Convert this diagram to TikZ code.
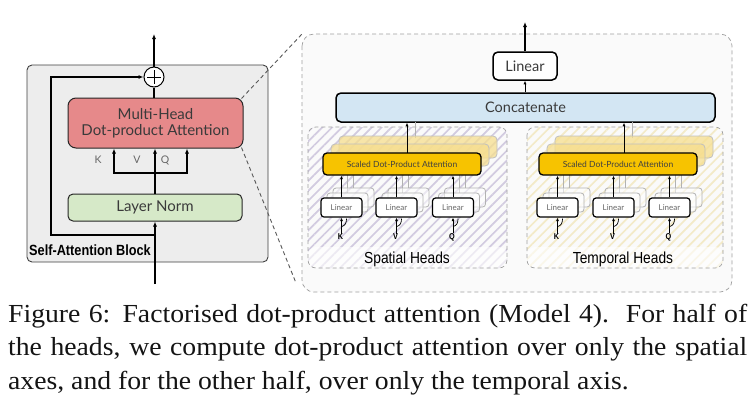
\documentclass[tikz,border=0pt]{standalone}
\usepackage{fontspec}
\setmainfont{Liberation Serif}
\newfontfamily\boxfont{Lato}
\newfontfamily\arialf{Liberation Sans}[FakeStretch=0.86]
\newfontfamily\capf{Liberation Serif}[FakeStretch=1.065]
\usetikzlibrary{arrows.meta,calc,patterns.meta}
\definecolor{blockgray}{HTML}{EDEDED}
\definecolor{mhred}{HTML}{E6898A}
\definecolor{lngreen}{HTML}{D6E9C8}
\definecolor{catblue}{HTML}{D3E6F3}
\definecolor{gold}{HTML}{F7C300}
\definecolor{goldcopy}{HTML}{F6DE8E}
\definecolor{hatchP}{HTML}{D2CBE0}
\definecolor{hatchY}{HTML}{F3EAC8}
\definecolor{dashgray}{HTML}{A0A0A0}
\definecolor{txtgray}{HTML}{3A3A3A}
\tikzset{
  arr/.style={-{Latex[length=5pt,width=4pt]}, line width=1.2pt},
  arrs/.style={-{Latex[length=3.5pt,width=3pt]}, line width=1pt},
  bigbox/.style={draw=black!85, line width=1pt, inner sep=0pt, align=center,
    font=\boxfont\fontsize{15}{17}\selectfont, text=txtgray},
  sdpa/.style={draw=black, line width=1.3pt, fill=gold, rounded corners=4pt,
    minimum width=158pt, minimum height=22pt, inner sep=0pt,
    font=\boxfont\fontsize{8.5}{10}\selectfont, text=black!75},
  sdpacopy/.style={draw=black!25, line width=0.8pt, fill=goldcopy, fill opacity=0.75,
    rounded corners=4pt, minimum width=158pt, minimum height=22pt, inner sep=0pt},
  linsm/.style={draw=black, line width=1.2pt, fill=white, rounded corners=3pt,
    minimum width=41pt, minimum height=19pt, inner sep=0pt,
    font=\boxfont\fontsize{8}{9}\selectfont, text=black!60},
  lincopy/.style={draw=black!30, line width=0.8pt, fill=white, fill opacity=0.55,
    rounded corners=3pt, minimum width=41pt, minimum height=19pt, inner sep=0pt},
  kvq/.style={font=\arialf\bfseries\fontsize{8.5}{9}\selectfont, inner sep=0pt},
  kvqleft/.style={font=\boxfont\fontsize{10.5}{12}\selectfont, text=black!60, inner sep=0pt},
  zoomline/.style={dashed, draw=black!65, line width=0.9pt, dash pattern=on 4pt off 3pt},
  headbox/.style={dashed, draw=dashgray, line width=0.7pt, rounded corners=8pt,
    dash pattern=on 4pt off 3pt},
  capline/.style={anchor=base west, inner sep=0pt, text=black!92,
    font=\capf\fontsize{26}{30}\selectfont},
}
\newcommand\headgrp[6]{% #1 prefix, #2 sdpa cx, #3 #4 #5 linear cx, #6 top arrow dx
  \draw[black!30, line width=0.8pt] (#2+#6+8,138) -- (#2+#6+8,122);
  \node[sdpacopy] at (#2+16,164-17) {};
  \node[sdpacopy] at (#2+8,164-9) {};
  \foreach \xx in {#3,#4,#5} {
    \draw[black!30, line width=0.8pt] (\xx+6,193) -- (\xx+6,175);
    \draw[black!30, line width=0.8pt] (\xx+12,188) -- (\xx+12,175);
  }
  \node[sdpa] (#1s) at (#2,164) {Scaled Dot-Product Attention};
  \coordinate (#1t) at (#2+#6,153);
  \draw[arrs] (#1t) -- (#1t |- cat.south);
  \foreach \xx/\ll/\nn in {#3/K/k,#4/V/v,#5/Q/q} {
    \node[lincopy] at (\xx+12,207.5-10) {};
    \node[lincopy] at (\xx+6,207.5-5) {};
    \node[linsm] (#1\nn) at (\xx,207.5) {Linear};
    \node[kvq] (#1\nn l) at (\xx-1,237) {\ll};
    \draw[arrs] (#1\nn l.north -| #1\nn.south) -- (#1\nn.south);
    \draw[line width=0.7pt] ($(#1\nn.south)+(0,9)$) .. controls ($(#1\nn.south)+(4,8)$) and ($(#1\nn.south)+(5,5)$) .. ($(#1\nn.south)+(5,1)$);
    \draw[arrs] (#1\nn.north) -- (#1\nn.north |- #1s.south);
  }
}
\begin{document}
\begin{tikzpicture}[x=1pt,y=-1pt]
\useasboundingbox (0,0) rectangle (751,410);
\fill[white] (0,0) rectangle (751,410);

% ---------- left block ----------
\draw[draw=black!75, line width=0.9pt, fill=blockgray, rounded corners=5pt]
  (27,65) rectangle (268,262);
\node[bigbox, fill=mhred, rounded corners=8pt, minimum width=175pt, minimum height=50pt]
  (mh) at (155.5,123) {Multi-Head\\[-1pt]Dot-product Attention};
\node[bigbox, fill=lngreen, rounded corners=5pt, minimum width=174pt, minimum height=27pt]
  (ln) at (155,207.5) {Layer Norm};
\node[circle, draw=black, fill=white, line width=1pt, minimum size=20pt, inner sep=0pt]
  (plus) at (154,77) {};
\draw[line width=1pt] ($(plus.center)+(-7,0)$) -- ($(plus.center)+(7,0)$);
\draw[line width=1pt] ($(plus.center)+(0,-7)$) -- ($(plus.center)+(0,7)$);
\coordinate (outtop) at (154,34);
\draw[arr] (plus.north) -- (outtop);
\draw[line width=1.2pt] (plus.south) -- (plus.south |- mh.north);
\coordinate (in) at (155,284);
\draw[arr] (in) -- (ln.south);
\draw[arr] (ln.north) -- (ln.north |- mh.south);
\coordinate (br) at (155,173);
\coordinate (kx) at (114,0);
\coordinate (qx) at (187,0);
\draw[arr] (br) -| (kx |- mh.south);
\draw[arr] (br) -| (qx |- mh.south);
\coordinate (rs) at (155,235);
\coordinate (rl) at (51,0);
\draw[arr] (rs) -| (rl |- plus.west) -- (plus.west);
\node[kvqleft] (kL) at (98,160) {K};
\node[kvqleft] (vL) at (137,160) {V};
\node[kvqleft] (qL) at (165,160) {Q};
\node[anchor=base west, inner sep=0pt, font=\arialf\bfseries\fontsize{14.8}{16}\selectfont]
  (sab) at (29,255.5) {Self-Attention Block};

% ---------- right panel ----------
\draw[headbox, fill=black!2, rounded corners=12pt] (302,34) rectangle (732,292);
\coordinate (pTL) at (302,34);
\coordinate (pBL) at (296,283);
\draw[zoomline] (mh.north east) ++(-2,1) -- (pTL);
\draw[zoomline] (mh.south east) ++(-2,-1) -- (pBL);

% head boxes
\fill[pattern={Lines[angle=45,distance=7pt,line width=1.7pt]}, pattern color=hatchP]
  [rounded corners=8pt] (308,127) rectangle (507,268);
\fill[white, opacity=0.6, rounded corners=8pt] (308,247) rectangle (507,268);
\draw[headbox] (308,127) rectangle (507,268);
\fill[pattern={Lines[angle=45,distance=7pt,line width=1.7pt]}, pattern color=hatchY]
  [rounded corners=8pt] (527,127) rectangle (723,268);
\fill[white, opacity=0.6, rounded corners=8pt] (527,247) rectangle (723,268);
\draw[headbox] (527,127) rectangle (723,268);

\node[bigbox, draw=black, line width=1.5pt, fill=catblue, rounded corners=5pt,
  minimum width=379pt, minimum height=29pt, font=\boxfont\fontsize{14.5}{16}\selectfont]
  (cat) at (525.5,107.5) {Concatenate};
\node[bigbox, draw=black, line width=1.5pt, fill=white, rounded corners=5pt,
  minimum width=64pt, minimum height=28pt, font=\boxfont\fontsize{14.5}{16}\selectfont]
  (lin) at (525,66) {Linear};
\coordinate (top) at (525,22);
\draw[arrs] (cat.north -| lin.south) -- (lin.south);
\draw[arr] (lin.north) -- (top);

\headgrp{s}{402}{341.5}{396.5}{453}{5}
\headgrp{t}{618}{557.5}{613.5}{669.5}{6}

\node[inner sep=0pt, font=\arialf\fontsize{16}{18}\selectfont] (sh) at (407,259) {Spatial Heads};
\node[inner sep=0pt, font=\arialf\fontsize{16}{18}\selectfont] (th) at (623,259) {Temporal Heads};

% ---------- caption ----------
\node[capline] (c1) at (8,322) {\makebox[739pt][s]{Figure 6: Factorised dot-product attention (Model 4).\ \ For half of}};
\node[capline] (c2) at (8,355.5) {\makebox[739pt][s]{the heads, we compute dot-product attention over only the spatial}};
\node[capline] (c3) at (8,389) {axes, and for the other half, over only the temporal axis.};
\end{tikzpicture}
\end{document}
